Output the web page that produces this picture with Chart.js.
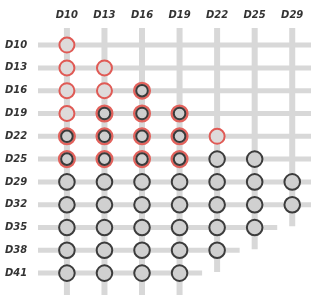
<!DOCTYPE html>
<html>
<head>
<meta charset="utf-8">
<script src="https://cdn.jsdelivr.net/npm/chart.js@4.4.1/dist/chart.umd.min.js"></script>
<style>
  html, body { margin: 0; padding: 0; background: #fff; }
  #wrap { width: 311px; height: 295px; }
</style>
</head>
<body>
<div id="wrap"><canvas id="grid" width="311" height="295"></canvas></div>
<script>
// columns across the top, rows down the side
const colLabels = ['D10', 'D13', 'D16', 'D19', 'D22', 'D25', 'D29'];
const rowLabels = ['D10', 'D13', 'D16', 'D19', 'D22', 'D25', 'D29', 'D32', 'D35', 'D38', 'D41'];
// one letter per circle in the row: r = red ring, x = red + dark ring, g = grey
const rowStatus = ['r', 'rr', 'rrx', 'rxxx', 'xxxxr', 'xxxxgg', 'ggggggg', 'ggggggg', 'gggggg', 'ggggg', 'gggg'];

const xMin = -0.77, xMax = 6.5;
const yMin = -0.75, yMax = 10.96;

const pts = { r: [], x: [], g: [] };
rowStatus.forEach((s, r) => {
  s.split('').forEach((c, i) => pts[c].push({ x: i, y: r }));
});

// grid bars behind the circles
const lineSets = [];
rowStatus.forEach((s, r) => {
  const reach = Math.max(...rowStatus.slice(r).map(t => t.length));
  const end = reach >= colLabels.length ? xMax + 0.2 : reach - 1 + 0.6;
  lineSets.push({ d: [{ x: xMin, y: r }, { x: end, y: r }], w: 5 });
});
colLabels.forEach((c, i) => {
  let last = 0;
  rowStatus.forEach((s, r) => { if (s.length > i) last = r; });
  const end = last >= rowLabels.length - 1 ? yMax + 0.2 : last + 0.95;
  lineSets.push({ d: [{ x: i, y: yMin }, { x: i, y: end }], w: 6 });
});

const datasets = lineSets.map(l => ({
  data: l.d, showLine: true, pointRadius: 0, borderWidth: l.w,
  borderColor: '#d8d8d8', borderCapStyle: 'butt', order: 10
}));

datasets.push({ data: pts.r, pointRadius: 7.5, borderWidth: 2, borderColor: '#e05a55', backgroundColor: '#dedada', order: 2 });
datasets.push({ data: pts.x, pointRadius: 7.8, borderWidth: 2.5, borderColor: '#e2625c', backgroundColor: '#cfcfcf', order: 2 });
datasets.push({ data: pts.x, pointRadius: 5.8, borderWidth: 2, borderColor: '#3a3a3a', backgroundColor: '#cfcfcf', order: 1 });
datasets.push({ data: pts.g, pointRadius: 7.8, borderWidth: 2, borderColor: '#3c3c3c', backgroundColor: '#d0d0d0', order: 2 });

const labelFont = { family: 'DejaVu Sans', size: 10, style: 'italic', weight: 'bold' };

new Chart(document.getElementById('grid'), {
  type: 'scatter',
  data: { datasets },
  options: {
    responsive: false,
    animation: false,
    events: [],
    layout: { padding: { left: 5 }, autoPadding: false },
    plugins: { legend: { display: false }, tooltip: { enabled: false } },
    scales: {
      x: {
        type: 'linear', position: 'top', min: xMin, max: xMax,
        grid: { display: false, drawTicks: false }, border: { display: false },
        afterBuildTicks: s => { s.ticks = colLabels.map((_, i) => ({ value: i })); },
        afterFit: s => { s.height = 28; s.paddingLeft = 0; s.paddingRight = 0; },
        ticks: { color: '#333', font: labelFont, padding: 7, maxRotation: 0, callback: v => colLabels[v] }
      },
      y: {
        type: 'linear', reverse: true, min: yMin, max: yMax,
        grid: { display: false, drawTicks: false }, border: { display: false },
        afterBuildTicks: s => { s.ticks = rowLabels.map((_, i) => ({ value: i })); },
        afterFit: s => { s.width = 33; s.paddingTop = 0; s.paddingBottom = 0; },
        ticks: { color: '#333', font: labelFont, crossAlign: 'far', padding: 4, callback: v => rowLabels[v] }
      }
    }
  }
});
</script>
</body>
</html>
